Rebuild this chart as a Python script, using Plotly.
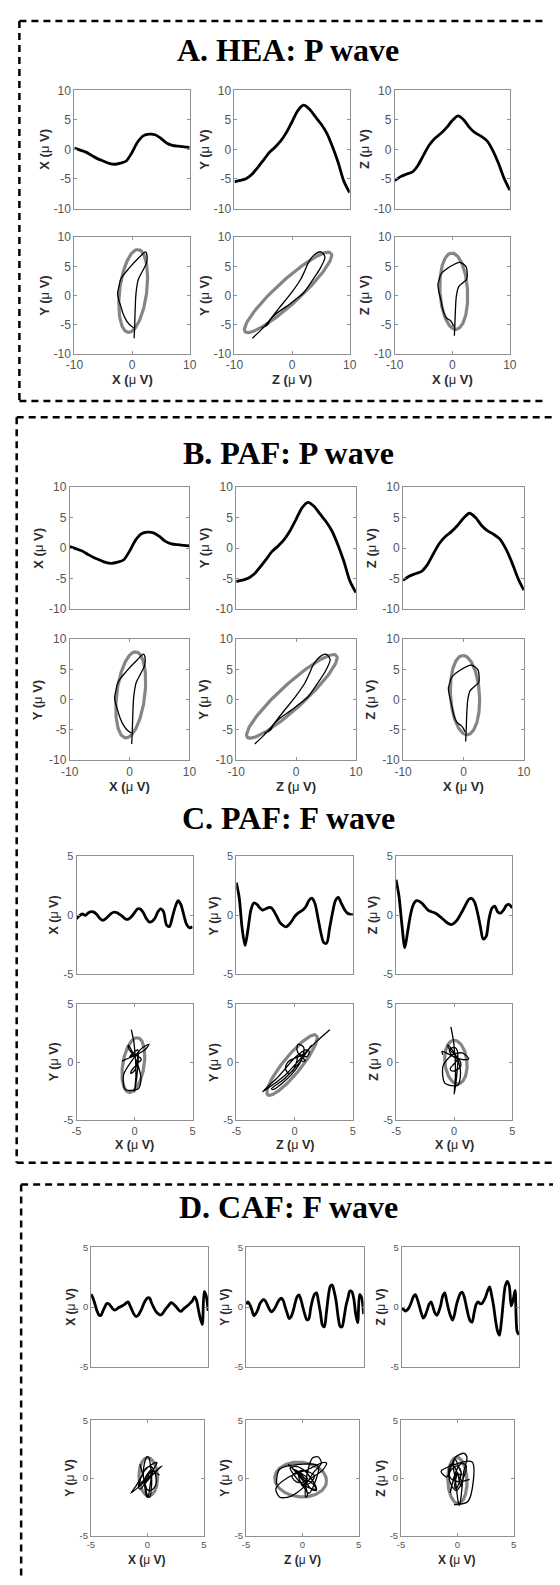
import numpy as np
import plotly.graph_objects as go

W, H = 560, 1585

# ---------------- data ----------------
# A. HEA: P wave  (21 equally spaced samples)
A_X = [0.25, -0.1, -0.45, -1.0, -1.55, -1.95, -2.35, -2.5, -2.3, -1.95, -0.5,
       1.3, 2.35, 2.6, 2.5, 1.9, 1.1, 0.7, 0.55, 0.45, 0.36]
A_Y = [-5.5, -5.25, -4.95, -4.25, -3.1, -1.85, -0.55, 0.35, 1.4, 2.85, 4.7,
       6.6, 7.5, 6.85, 5.6, 4.35, 2.8, 0.5, -2.2, -5.4, -7.3]
A_Z = [-5.28, -4.6, -4.2, -3.85, -2.75, -0.95, 0.75, 1.9, 2.7, 3.7, 4.9,
       5.7, 5.0, 3.7, 2.8, 2.25, 1.5, -0.1, -2.3, -4.9, -6.9]
# fitted ellipses: centre x, centre y, semi-major, semi-minor, angle (deg)
A_ELL_XY = [0.2, 0.8, 7.15, 2.35, 82.8]
A_ELL_ZY = [-0.7, 0.55, 10.05, 2.0, 42.1]
A_ELL_XZ = [0.25, 0.75, 6.55, 2.4, 93.3]

# B. PAF: P wave (same recording as panel A)
B_X = list(A_X)
B_Y = list(A_Y)
B_Z = list(A_Z)
B_ELL_XY = list(A_ELL_XY)
B_ELL_ZY = list(A_ELL_ZY)
B_ELL_XZ = list(A_ELL_XZ)

# C. PAF: F wave (41 samples)
C_X = [-0.28, -0.03, 0.12, 0.0, 0.2, 0.32, 0.28, 0.08, -0.25, -0.42, -0.3,
       -0.05, 0.17, 0.28, 0.22, 0.06, -0.12, -0.32, -0.3, -0.08, 0.24,
       0.55, 0.55, 0.25, -0.25, -0.55, -0.52, -0.25, 0.28, 0.55, 0.3,
       -0.8, -0.95, -0.18, 0.7, 1.25, 0.9, 0.0, -0.8, -1.05, -0.97]
C_Y = [2.78, 1.5, -1.1, -2.55, -1.2, 0.45, 1.05, 0.95, 0.65, 0.45, 0.55,
       0.66, 0.65, 0.32, -0.15, -0.62, -0.85, -0.97, -0.8, -0.5, -0.1,
       0.15, 0.33, 0.5, 0.8, 1.3, 1.45, 1.0, -0.2, -1.45, -2.3,
       -2.35, -1.1, 0.2, 1.25, 1.53, 1.05, 0.55, 0.22, 0.1, 0.06]
C_Z = [3.02, 1.6, -0.8, -2.75, -1.35, 0.1, 0.95, 1.25, 1.2, 1.0, 0.72,
       0.45, 0.33, 0.24, 0.12, -0.08, -0.28, -0.5, -0.68, -0.78, -0.65,
       -0.4, 0.0, 0.45, 0.92, 1.35, 1.45, 1.15, 0.28, -0.9, -2.0,
       -1.8, -0.3, 0.6, 0.79, 0.3, 0.2, 0.45, 0.85, 0.92, 0.62]
C_ELL_XY = [-0.1, -0.25, 2.37, 0.92, 80.8]
C_ELL_ZY = [-0.22, -0.25, 3.3, 0.75, 50.8]
C_ELL_XZ = [0.15, 0.0, 1.88, 0.95, 96.0]

# D. CAF: F wave (61 samples)
D_X = [1.08, 0.75, 0.25, -0.3, -0.65, -0.7, -0.35, 0.0, 0.3, 0.28, 0.11,
       -0.12, -0.25, -0.18, -0.05, 0.03, 0.12, 0.22, 0.35, 0.44, 0.1,
       -0.25, -0.6, -0.78, -0.7, -0.45, -0.12, 0.3, 0.6, 0.78, 0.75,
       0.35, 0.0, -0.3, -0.5, -0.62, -0.63, -0.45, -0.2, 0.0, 0.2,
       0.38, 0.3, 0.14, -0.05, -0.25, -0.36, -0.22, -0.06, 0.06, 0.2,
       0.37, 0.55, 0.85, 0.6, -0.2, -0.95, -1.45, 1.3, 0.95, -0.3]
D_Y = [0.25, 0.45, 0.2, -0.25, -0.7, -0.55, -0.22, 0.25, 0.5, 0.66, 0.5,
       0.15, -0.2, -0.39, -0.25, 0.0, 0.35, 0.62, 0.75, 0.55, 0.0,
       -0.5, -0.95, -0.8, -0.35, 0.3, 0.85, 1.02, 0.65, 0.0, -0.6,
       -1.05, -1.0, -0.1, 0.66, 1.1, 1.2, 0.45, -0.5, -1.5, -1.65,
       -0.5, 0.9, 1.75, 1.85, 1.3, 0.5, -0.8, -1.6, -1.65, -0.9,
       0.1, 0.75, 1.35, 1.3, 0.7, -0.6, -1.3, 1.05, 0.8, -0.58]
D_Z = [-0.1, -0.2, -0.33, -0.2, 0.05, 0.45, 0.9, 1.05, 0.65, 0.1, -0.5,
       -0.92, -0.7, -0.25, 0.25, 0.45, 0.0, -0.5, -0.68, -0.35, 0.2,
       0.95, 1.2, 0.5, -0.2, -0.75, -1.08, -0.6, 0.2, 0.75, 1.15,
       1.25, 0.85, 0.1, -0.65, -1.15, -1.25, -0.5, 0.2, 0.45, 0.3,
       0.3, 0.55, 0.9, 1.4, 1.69, 1.0, 0.1, -1.1, -2.0, -2.35,
       -1.2, 0.5, 1.8, 2.15, 1.8, 0.1, 0.6, 1.4, -2.0, -2.3]
D_ELL_XY = [0.08, 0.12, 1.65, 0.82, 92.0]
D_ELL_ZY = [-0.15, -0.12, 2.3, 1.5, -5.0]
D_ELL_XZ = [0.0, -0.2, 2.0, 0.85, 92.0]

TITLES = ["A. HEA: P wave", "B. PAF: P wave", "C. PAF: F wave", "D. CAF: F wave"]
LIMITS = [10, 10, 5, 5]
TICK_STEP = [5, 5, 5, 5]

# ---------------- layout geometry (pixels) ----------------
GEOM = [
    dict(r1=(84.2, 203.3), r2=(232.3, 350.0),
         c1=[(67.3, 186.0), (232.1, 350.7), (397.1, 515.6)],
         c2=[(67.3, 186.0), (232.1, 350.7), (397.1, 515.6)],
         title_y=43, tick=12, atit=13, yoff=31, xoff=26),
    dict(r1=(484.3, 607.5), r2=(637.7, 760.0),
         c1=[(62.5, 185.7), (233.9, 357.1), (405.7, 530.0)],
         c2=[(62.5, 185.7), (233.9, 357.1), (405.7, 530.0)],
         title_y=450, tick=12, atit=13, yoff=33, xoff=26.5),
    dict(r1=(857.0, 976.0), r2=(1005.7, 1123.3),
         c1=[(69.5, 189.0), (234.0, 354.0), (398.5, 518.0)],
         c2=[(69.5, 189.0), (234.0, 354.0), (398.5, 518.0)],
         title_y=818, tick=11, atit=12.5, yoff=23, xoff=25),
    dict(r1=(1251.5, 1372.0), r2=(1426.0, 1542.5),
         c1=[(84.5, 205.0), (244.0, 365.0), (404.3, 525.0)],
         c2=[(84.3, 200.5), (243.9, 360.0), (403.6, 519.6)],
         title_y=1211, tick=9.5, atit=12, yoff=21, xoff=24),
]

FRAME = "#8f8f8f"
TICKC = "#555555"
TITC = "#2a2a2a"


def px(x):
    return x / W


def py(y):
    return 1 - y / H


def ellipse(p, n=160):
    cx, cy, a, b, th = p
    t = np.linspace(0, 2 * np.pi, n)
    th = np.radians(th)
    x = cx + a * np.cos(t) * np.cos(th) - b * np.sin(t) * np.sin(th)
    y = cy + a * np.cos(t) * np.sin(th) + b * np.sin(t) * np.cos(th)
    return x, y


def lab(v):
    return ("%g" % v)


def atitle(c):
    return "<b>%s (</b>\u03bc<b> V)</b>" % c


fig = go.Figure()
layout = dict(width=W, height=H, margin=dict(l=0, r=0, t=0, b=0),
              paper_bgcolor="white", plot_bgcolor="white", showlegend=False)
annotations = []
shapes = []

DATA = [
    (A_X, A_Y, A_Z, A_ELL_XY, A_ELL_ZY, A_ELL_XZ),
    (B_X, B_Y, B_Z, B_ELL_XY, B_ELL_ZY, B_ELL_XZ),
    (C_X, C_Y, C_Z, C_ELL_XY, C_ELL_ZY, C_ELL_XZ),
    (D_X, D_Y, D_Z, D_ELL_XY, D_ELL_ZY, D_ELL_XZ),
]

k = 0
for si, (X, Y, Z, exy, ezy, exz) in enumerate(DATA):
    g = GEOM[si]
    L = LIMITS[si]
    st = TICK_STEP[si]
    yt = list(range(-L, L + 1, st))
    xt = [-L, 0, L]
    tf = dict(family="Liberation Sans, Arial", size=g["tick"], color=TICKC)
    afont = dict(family="Liberation Sans, Arial", size=g["atit"], color=TITC)
    annotations.append(dict(
        text="<b>%s</b>" % TITLES[si], x=px(287.5), y=py(g["title_y"]),
        xref="paper", yref="paper", xanchor="center", yanchor="middle",
        showarrow=False,
        font=dict(family="Liberation Serif, Times New Roman", size=32, color="black")))

    # top row: time series
    N = len(X)
    for j, (s, name) in enumerate(zip((X, Y, Z), ("X", "Y", "Z"))):
        k += 1
        xa = "x" if k == 1 else "x%d" % k
        ya = "y" if k == 1 else "y%d" % k
        (l, r), (t, b) = g["c1"][j], g["r1"]
        fig.add_trace(go.Scatter(x=list(range(N)), y=s, mode="lines",
                                 line=dict(color="black", width=2.8, shape="spline", smoothing=0.8),
                                 xaxis=xa, yaxis=ya, hoverinfo="skip"))
        layout["xaxis" if k == 1 else "xaxis%d" % k] = dict(
            domain=[px(l), px(r)], range=[0, N - 1], anchor=ya,
            showgrid=False, zeroline=False, showline=True, linecolor=FRAME,
            linewidth=1, mirror=True, ticks="", showticklabels=False, fixedrange=True)
        layout["yaxis" if k == 1 else "yaxis%d" % k] = dict(
            domain=[py(b), py(t)], range=[-L, L], anchor=xa,
            showgrid=False, zeroline=False, showline=True, linecolor=FRAME,
            linewidth=1, mirror="ticks", ticks="inside", ticklen=3, tickcolor=FRAME,
            tickvals=yt, ticktext=[lab(v) for v in yt], tickfont=tf, fixedrange=True)
        annotations.append(dict(
            text=atitle(name), x=px(l - g["yoff"]), y=py((t + b) / 2),
            xref="paper", yref="paper", xanchor="center", yanchor="middle",
            textangle=-90, showarrow=False, font=afont))

    # bottom row: loops
    pairs = [(X, Y, "X", "Y", exy), (Z, Y, "Z", "Y", ezy), (X, Z, "X", "Z", exz)]
    for j, (hx, vy, hn, vn, ell) in enumerate(pairs):
        k += 1
        xa = "x%d" % k
        ya = "y%d" % k
        (l, r), (t, b) = g["c2"][j], g["r2"]
        ex, ey = ellipse(ell)
        fig.add_trace(go.Scatter(x=ex, y=ey, mode="lines",
                                 line=dict(color="#858585", width=3.2),
                                 xaxis=xa, yaxis=ya, hoverinfo="skip"))
        fig.add_trace(go.Scatter(x=hx, y=vy, mode="lines",
                                 line=dict(color="black", width=1.3, shape="spline", smoothing=0.8),
                                 xaxis=xa, yaxis=ya, hoverinfo="skip"))
        layout["xaxis%d" % k] = dict(
            domain=[px(l), px(r)], range=[-L, L], anchor=ya,
            showgrid=False, zeroline=False, showline=True, linecolor=FRAME,
            linewidth=1, mirror="ticks", ticks="inside", ticklen=3, tickcolor=FRAME,
            tickvals=xt, ticktext=[lab(v) for v in xt], tickfont=tf, fixedrange=True)
        layout["yaxis%d" % k] = dict(
            domain=[py(b), py(t)], range=[-L, L], anchor=xa,
            showgrid=False, zeroline=False, showline=True, linecolor=FRAME,
            linewidth=1, mirror="ticks", ticks="inside", ticklen=3, tickcolor=FRAME,
            tickvals=yt, ticktext=[lab(v) for v in yt], tickfont=tf, fixedrange=True)
        annotations.append(dict(
            text=atitle(vn), x=px(l - g["yoff"]), y=py((t + b) / 2),
            xref="paper", yref="paper", xanchor="center", yanchor="middle",
            textangle=-90, showarrow=False, font=afont))
        annotations.append(dict(
            text=atitle(hn), x=px((l + r) / 2), y=py(b + g["xoff"]),
            xref="paper", yref="paper", xanchor="center", yanchor="middle",
            showarrow=False, font=afont))

# dashed frames around the sections
DASH = dict(color="black", width=2.5, dash="7px,5px")
BOX_LINES = [
    (10.7, 14, 552, 14), (10.7, 14, 10.7, 397.5), (10.7, 397.5, 552, 397.5),
    (7.9, 414, 560, 414), (7.9, 414, 7.9, 1166), (7.9, 1166, 560, 1166),
    (12.5, 1188, 560, 1188), (12.5, 1188, 12.5, 1585),
]
for x0, y0, x1, y1 in BOX_LINES:
    shapes.append(dict(type="line", xref="paper", yref="paper",
                       x0=px(x0), y0=py(y0), x1=px(x1), y1=py(y1), line=DASH))

layout["annotations"] = annotations
layout["shapes"] = shapes
fig.update_layout(**layout)
fig.write_html("out.html",
               config={"displayModeBar": False, "staticPlot": True},
               post_script="document.body.style.margin='0';"
                           "document.body.style.overflow='hidden';")
